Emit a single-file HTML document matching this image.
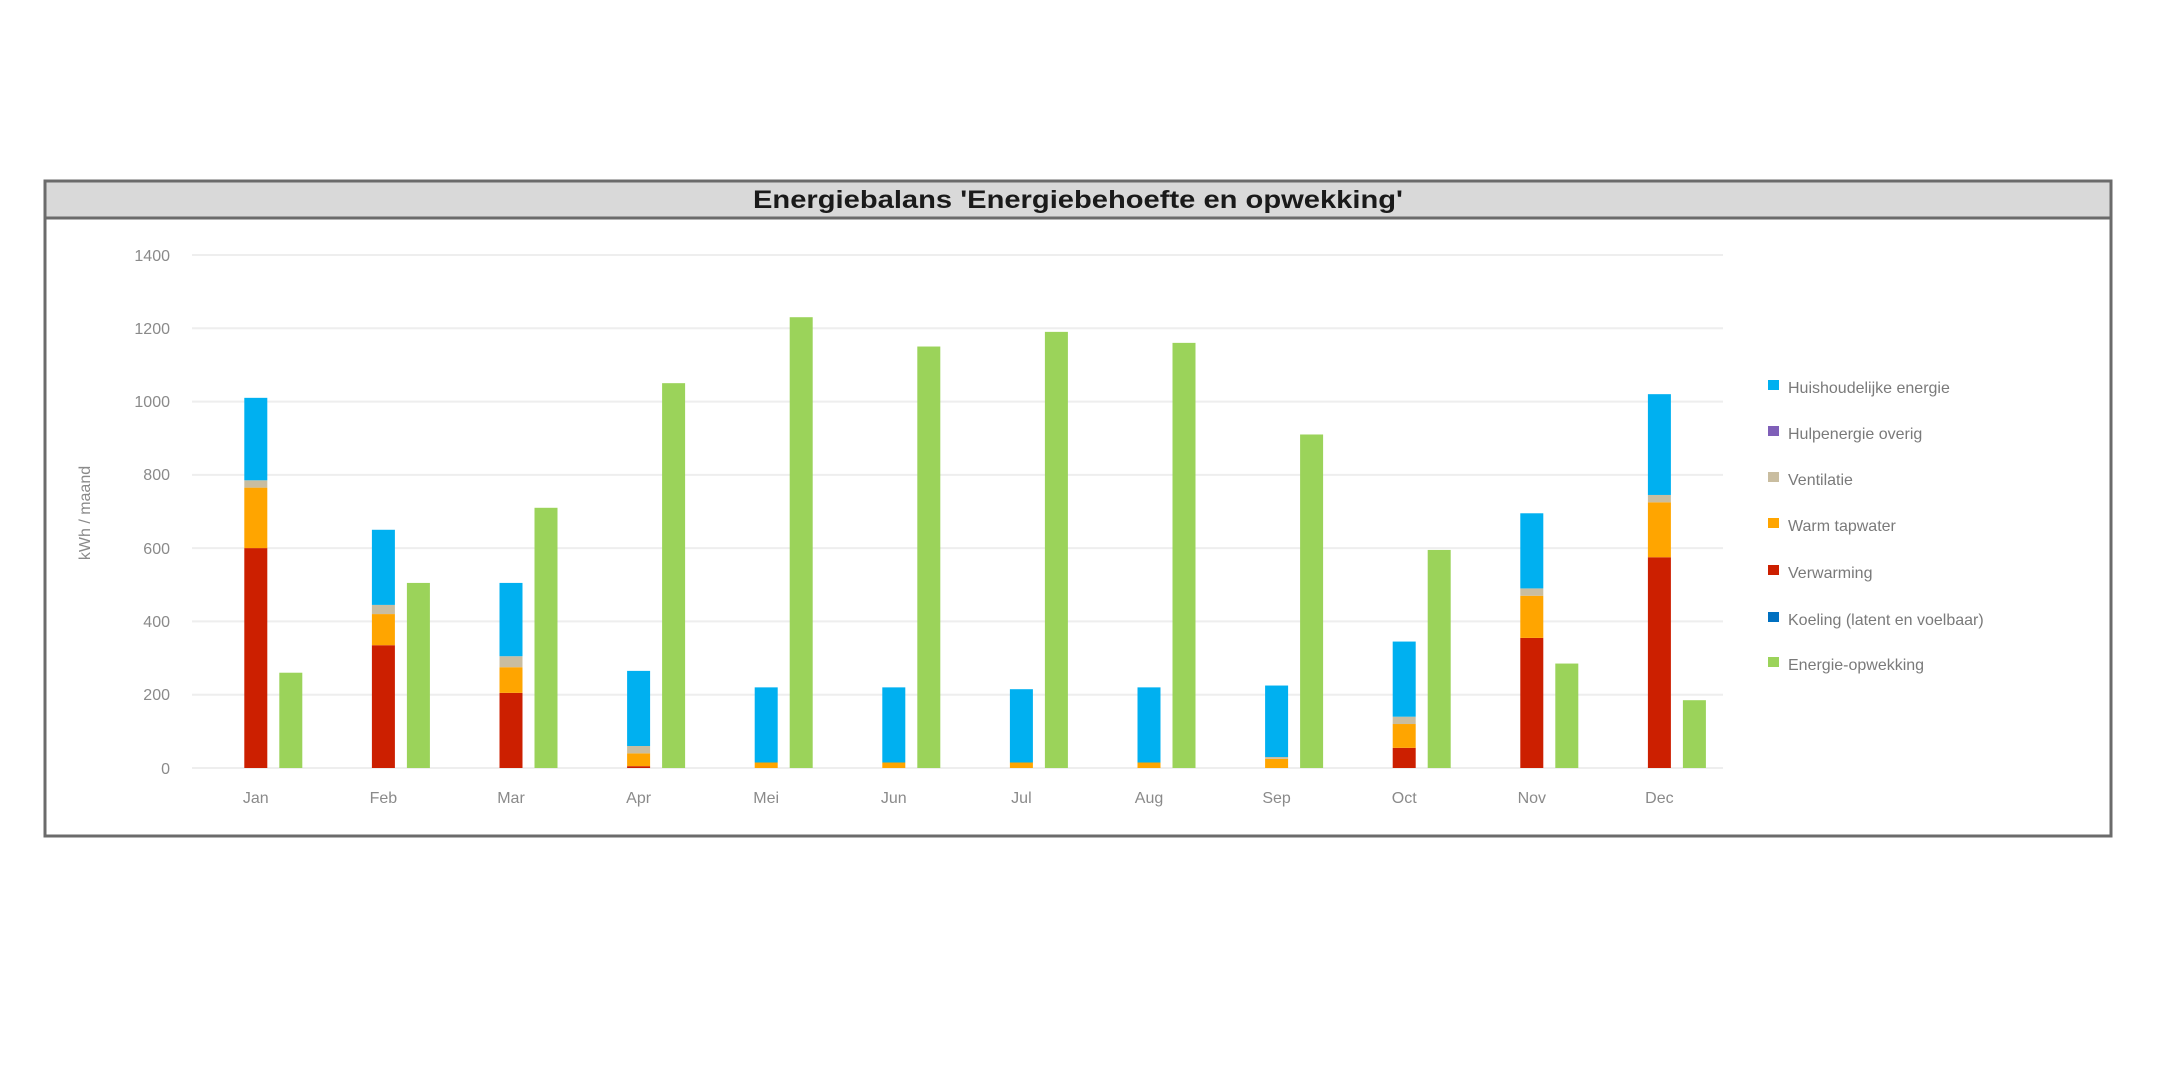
<!DOCTYPE html>
<html><head><meta charset="utf-8"><style>
html,body{margin:0;padding:0;background:#fff;}
svg{display:block;}
</style></head><body>
<svg width="2160" height="1080" xmlns="http://www.w3.org/2000/svg" font-family="Liberation Sans, sans-serif">
<rect x="0" y="0" width="2160" height="1080" fill="#fff"/>
<rect x="45" y="181" width="2066" height="655" fill="#fff" stroke="#6b6b6b" stroke-width="3"/>
<rect x="45" y="181" width="2066" height="37" fill="#d9d9d9" stroke="#6b6b6b" stroke-width="3"/>
<text x="1078" y="208" text-anchor="middle" font-weight="bold" font-size="25" fill="#1a1a1a" textLength="650" lengthAdjust="spacingAndGlyphs">Energiebalans 'Energiebehoefte en opwekking'</text>
<g stroke="#eeeeee" stroke-width="2">
<line x1="192" x2="1723" y1="255" y2="255"/>
<line x1="192" x2="1723" y1="328.3" y2="328.3"/>
<line x1="192" x2="1723" y1="401.6" y2="401.6"/>
<line x1="192" x2="1723" y1="474.9" y2="474.9"/>
<line x1="192" x2="1723" y1="548.1" y2="548.1"/>
<line x1="192" x2="1723" y1="621.4" y2="621.4"/>
<line x1="192" x2="1723" y1="694.7" y2="694.7"/>
<line x1="192" x2="1723" y1="768" y2="768"/>
</g>
<g font-size="16" fill="#8a8a8a" text-anchor="end">
<text x="170" y="261">1400</text>
<text x="170" y="334">1200</text>
<text x="170" y="407">1000</text>
<text x="170" y="480">800</text>
<text x="170" y="554">600</text>
<text x="170" y="627">400</text>
<text x="170" y="700">200</text>
<text x="170" y="774">0</text>
</g>
<text transform="translate(90,513) rotate(-90)" text-anchor="middle" font-size="16" fill="#8a8a8a">kWh / maand</text>
<g id="bars"></g>
<g font-size="16" fill="#8a8a8a" text-anchor="middle" id="months"></g>
<g font-size="16" fill="#7a7a7a">
<rect x="1768" y="380" width="11" height="10" fill="#00b0f0"/><text x="1788" y="393">Huishoudelijke energie</text>
<rect x="1768" y="426" width="11" height="10" fill="#7f5fb8"/><text x="1788" y="439">Hulpenergie overig</text>
<rect x="1768" y="472" width="11" height="10" fill="#c9bda0"/><text x="1788" y="485">Ventilatie</text>
<rect x="1768" y="518" width="11" height="10" fill="#ffa500"/><text x="1788" y="531">Warm tapwater</text>
<rect x="1768" y="565" width="11" height="10" fill="#cc1f00"/><text x="1788" y="578">Verwarming</text>
<rect x="1768" y="612" width="11" height="10" fill="#0070c0"/><text x="1788" y="625">Koeling (latent en voelbaar)</text>
<rect x="1768" y="657" width="11" height="10" fill="#9bd35a"/><text x="1788" y="670">Energie-opwekking</text>
</g>
<script>
var d=[["Jan",600,765,785,1010,260],["Feb",335,420,445,650,505],["Mar",205,275,305,505,710],["Apr",5,40,60,265,1050],["Mei",0,15,15,220,1230],["Jun",0,15,15,220,1150],["Jul",0,15,15,215,1190],["Aug",0,15,15,220,1160],["Sep",0,25,30,225,910],["Oct",55,120,140,345,595],["Nov",355,470,490,695,285],["Dec",575,725,745,1020,185]];
var ns="http://www.w3.org/2000/svg",g=document.getElementById("bars"),m=document.getElementById("months");
function Y(v){return 768-v*0.3665;}
function r(x,a,b,c){if(b<=a)return;var e=document.createElementNS(ns,"rect");e.setAttribute("x",x);e.setAttribute("width",23);e.setAttribute("y",Y(b));e.setAttribute("height",Y(a)-Y(b));e.setAttribute("fill",c);g.appendChild(e);}
d.forEach(function(o,i){var c=192+127.6*(i+0.5);var x=c-11.5;
r(x,0,o[1],"#cc1f00");r(x,o[1],o[2],"#ffa500");r(x,o[2],o[3],"#c9bda0");r(x,o[3],o[4],"#00b0f0");
r(x+35,0,o[5],"#9bd35a");
var t=document.createElementNS(ns,"text");t.setAttribute("x",c);t.setAttribute("y",803);t.textContent=o[0];m.appendChild(t);});
</script>
</svg>
</body></html>
